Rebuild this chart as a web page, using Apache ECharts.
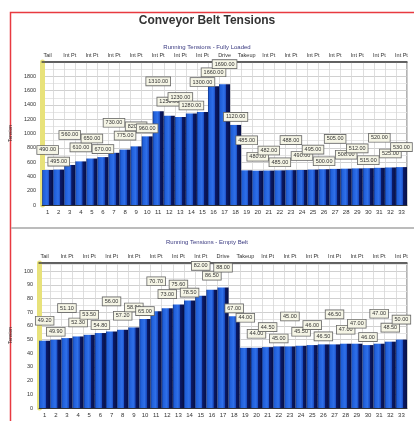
<!DOCTYPE html>
<html>
<head>
<meta charset="utf-8">
<title>Conveyor Belt Tensions</title>
<script src="https://cdn.jsdelivr.net/npm/echarts@6/dist/echarts.min.js"></script>
<style>
  html, body { margin: 0; padding: 0; background: #fff; }
  #chart { width: 414px; height: 421px; }
</style>
</head>
<body>
<div id="chart"></div>
<script>
// categories (belt points)
var points = ['1', '2', '3', '4', '5', '6', '7', '8', '9', '10', '11',
  '12', '13', '14', '15', '16', '17', '18', '19', '20', '21', '22',
  '23', '24', '25', '26', '27', '28', '29', '30', '31', '32', '33'];

// names shown along the top of each plot
var pointNames = ['Tail', 'Int Pt', 'Int Pt', 'Int Pt', 'Int Pt', 'Int Pt', 'Int Pt', 'Int Pt',
  'Int Pt', 'Int Pt', 'Int Pt', 'Int Pt', 'Int Pt', 'Int Pt', 'Int Pt', 'Int Pt',
  'Drive', 'Int Pt', 'Takeup', 'Int Pt', 'Int Pt', 'Int Pt', 'Int Pt', 'Int Pt',
  'Int Pt', 'Int Pt', 'Int Pt', 'Int Pt', 'Int Pt', 'Int Pt', 'Int Pt', 'Int Pt', 'Int Pt'];

// running tensions - fully loaded
var loadedTension = [490, 495, 560, 610, 650, 670, 730, 775, 820, 960, 1310,
  1250, 1230, 1280, 1300, 1660, 1690, 1120, 485, 480, 482, 485,
  488, 490, 495, 500, 505, 508, 512, 515, 520, 525, 530];

// running tensions - empty belt
var emptyTension = [49.2, 49.9, 51.1, 52.3, 53.5, 54.8, 56.0, 57.2, 58.9, 65.0, 70.7,
  73.0, 75.6, 78.5, 82.0, 86.5, 88.0, 67.0, 44.0, 44.0, 44.5, 45.0,
  45.0, 45.5, 46.0, 46.5, 46.5, 47.0, 47.0, 46.0, 47.0, 48.5, 50.0];

var FONT = 'Liberation Sans';
var stagger = [16, 4, 26, 10];

function labelled(values) {
  return values.map(function (v, i) {
    return { value: v, label: { distance: stagger[i % stagger.length] } };
  });
}

var barColor = {
  type: 'linear', x: 0, y: 0, x2: 1, y2: 0,
  colorStops: [
    { offset: 0, color: '#10307f' },
    { offset: 0.12, color: '#1f5ed8' },
    { offset: 0.45, color: '#2f70ea' },
    { offset: 0.64, color: '#1a4cc0' },
    { offset: 0.66, color: '#0b1a68' },
    { offset: 1, color: '#060f45' }
  ]
};

var boxLabel = {
  show: true,
  position: 'top',
  fontFamily: FONT,
  fontSize: 5.5,
  color: '#333',
  backgroundColor: '#f5f5e6',
  borderColor: '#666',
  borderWidth: 0.8,
  padding: [1, 2],
  formatter: function (p) { return p.value.toFixed(2); }
};

function bottomAxis(gi) {
  return {
    type: 'category', gridIndex: gi, data: points,
    axisTick: { show: false },
    axisLine: { lineStyle: { color: '#333', width: 1 } },
    axisLabel: { fontFamily: FONT, fontSize: 6, color: '#333', interval: 0, margin: 4 },
    splitLine: { show: true, interval: 0, lineStyle: { color: '#d6d6d6', width: 0.8 } }
  };
}

function topAxis(gi) {
  return {
    type: 'category', gridIndex: gi, position: 'top', data: pointNames,
    axisTick: { show: false },
    axisLine: { lineStyle: { color: '#444', width: 1.5 } },
    axisLabel: { fontFamily: FONT, fontSize: 5.5, color: '#333', interval: 1, margin: 4 }
  };
}

function valueAxis(gi, max, interval) {
  return {
    type: 'value', gridIndex: gi, min: 0, max: max, interval: interval,
    name: 'Tension', nameLocation: 'middle', nameRotate: 90, nameGap: 22,
    nameTextStyle: { fontFamily: FONT, fontSize: 5, color: '#333' },
    axisLine: { show: true, lineStyle: { color: '#e8e27a', width: 5 } },
    axisTick: { show: false },
    axisLabel: { fontFamily: FONT, fontSize: 5.5, color: '#333', margin: 6, showMaxLabel: false,
      formatter: function (v) { return String(v); } },
    splitLine: { lineStyle: { color: '#c4c4c4', width: 0.8 } },
    minorTick: { show: false, splitNumber: 2 },
    minorSplitLine: { show: true, lineStyle: { color: '#e0e0e0', width: 0.8 } }
  };
}

var chart = echarts.init(document.getElementById('chart'));
var option = {
  animation: false,
  backgroundColor: '#fff',
  title: [
    { text: 'Conveyor Belt Tensions', left: 'center', top: 15, padding: 0,
      textStyle: { fontFamily: FONT, fontSize: 12, fontWeight: 'bold', color: '#333' } },
    { text: 'Running Tensions - Fully Loaded', left: 'center', top: 44, padding: 0,
      textStyle: { fontFamily: FONT, fontSize: 6, fontWeight: 'normal', color: '#3a3a80' } },
    { text: 'Running Tensions - Empty Belt', left: 'center', top: 239, padding: 0,
      textStyle: { fontFamily: FONT, fontSize: 6, fontWeight: 'normal', color: '#3a3a80' } }
  ],
  graphic: [
    { type: 'rect', shape: { x: 10.5, y: 12.5, width: 420, height: 420 },
      style: { fill: 'none', stroke: '#e83a40', lineWidth: 1.5 } },
    { type: 'line', shape: { x1: 11, y1: 228, x2: 414, y2: 228 },
      style: { stroke: '#bcbcbc', lineWidth: 2 } }
  ],
  grid: [
    { left: 38, right: 7, top: 62, height: 143, show: true, borderColor: '#666', borderWidth: 1 },
    { left: 38, right: 7, top: 263, height: 145, show: true, borderColor: '#666', borderWidth: 1 }
  ],
  xAxis: [bottomAxis(0), topAxis(0), bottomAxis(1), topAxis(1)],
  yAxis: [valueAxis(0, 2000, 200), valueAxis(1, 106, 10)],
  series: [
    { type: 'bar', name: 'Fully Loaded', xAxisIndex: 0, yAxisIndex: 0,
      barCategoryGap: '0%', itemStyle: { color: barColor },
      label: boxLabel, data: labelled(loadedTension) },
    { type: 'bar', name: 'Empty Belt', xAxisIndex: 2, yAxisIndex: 1,
      barCategoryGap: '0%', itemStyle: { color: barColor },
      label: boxLabel, data: labelled(emptyTension) }
  ]
};
option && chart.setOption(option);
</script>
</body>
</html>
